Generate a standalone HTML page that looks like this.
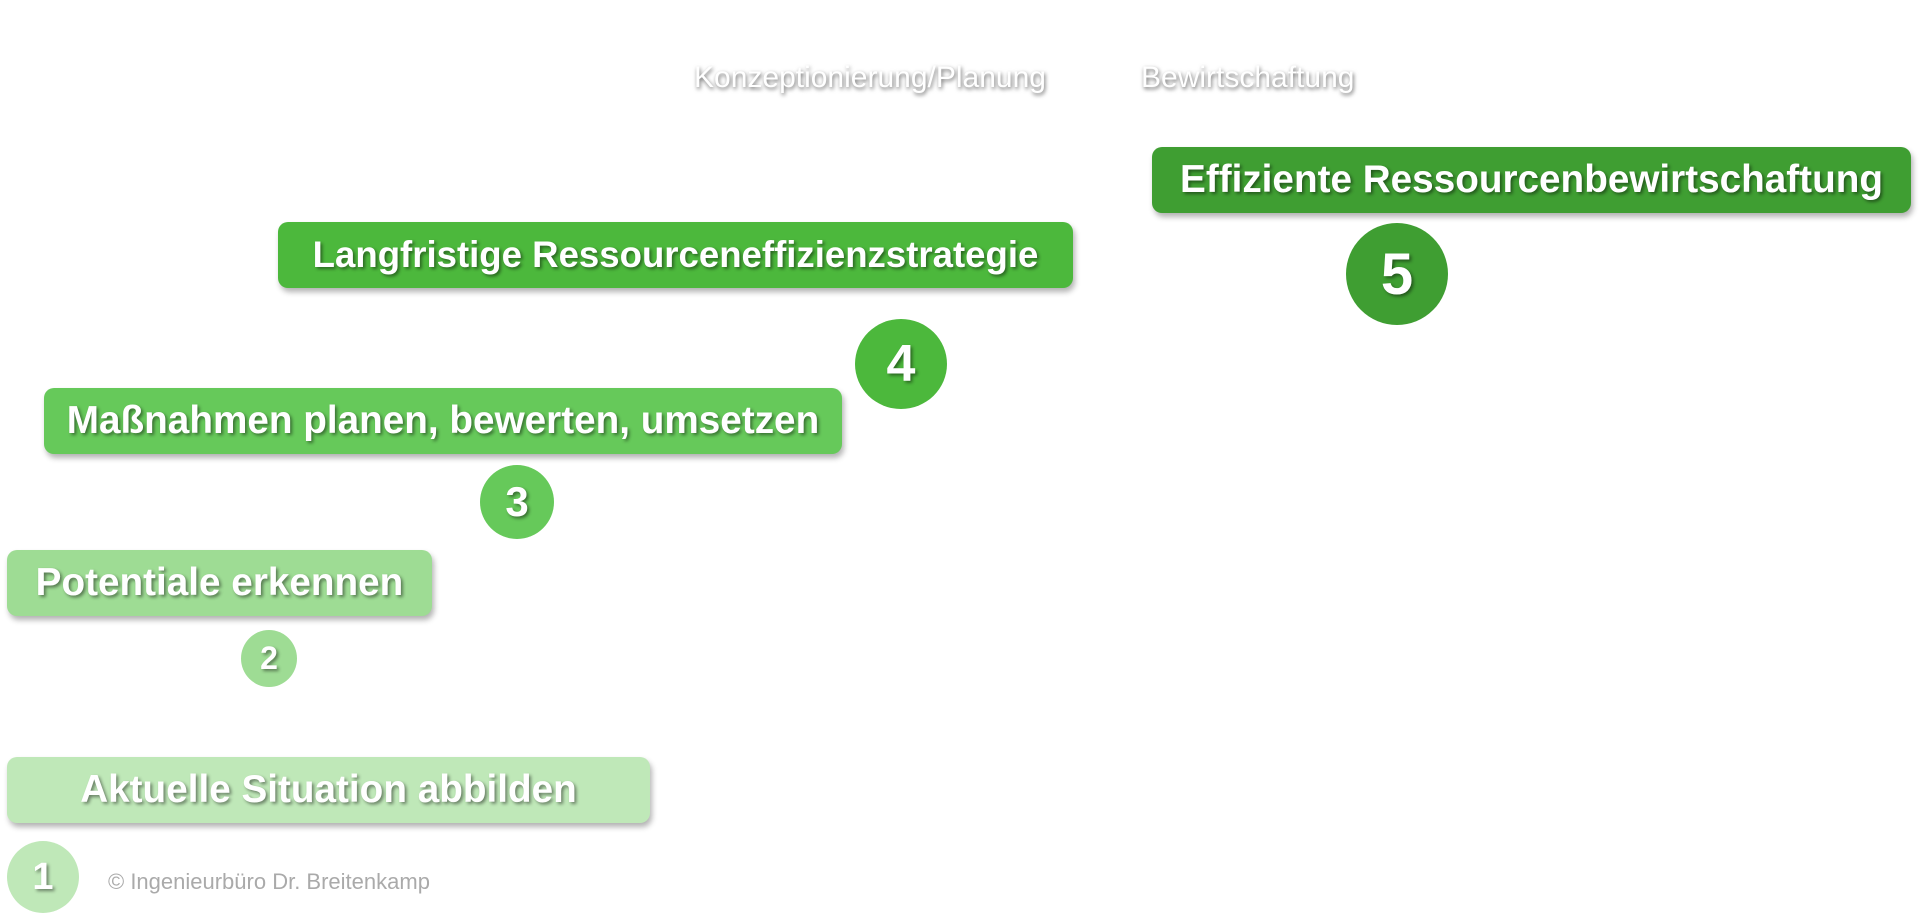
<!DOCTYPE html>
<html><head><meta charset="utf-8"><style>
html,body{margin:0;padding:0;background:#fff;width:1920px;height:923px;overflow:hidden;position:relative;font-family:"Liberation Sans",Arial,sans-serif}
.b{position:absolute;border-radius:10px;color:#fff;font-weight:bold;font-size:38.7px;display:flex;align-items:center;justify-content:center;box-shadow:2px 4px 6px rgba(0,0,0,.3);text-shadow:2px 2px 3px rgba(0,0,0,.45);white-space:nowrap}
.c{position:absolute;border-radius:50%;color:#fff;font-weight:bold;display:flex;align-items:center;justify-content:center;text-shadow:2px 2px 3px rgba(0,0,0,.45)}
.h{position:absolute;color:#fff;font-size:30px;text-shadow:1px 2px 4px rgba(0,0,0,.6);white-space:nowrap;top:61px}
</style></head><body>
<div class="h" style="left:694px">Konzeptionierung/Planung</div>
<div class="h" style="left:1141px">Bewirtschaftung</div>

<div class="b" style="left:1152px;top:147px;width:759px;height:66px;background:#3f9e32">Effiziente Ressourcenbewirtschaftung</div>
<div class="c" style="left:1346px;top:223px;width:102px;height:102px;background:#3f9e32;font-size:58px">5</div>

<div class="b" style="left:278px;top:222px;width:795px;height:66px;background:#4cb83c;font-size:36.6px">Langfristige Ressourceneffizienzstrategie</div>
<div class="c" style="left:855px;top:319px;width:92px;height:90px;background:#4cb83c;font-size:52px">4</div>

<div class="b" style="left:44px;top:388px;width:798px;height:66px;background:#66c95a">Maßnahmen planen, bewerten, umsetzen</div>
<div class="c" style="left:480px;top:465px;width:74px;height:74px;background:#66c95a;font-size:42px">3</div>

<div class="b" style="left:7px;top:550px;width:425px;height:66px;background:#9edc94">Potentiale erkennen</div>
<div class="c" style="left:241px;top:630px;width:56px;height:57px;background:#9edc94;font-size:32px">2</div>

<div class="b" style="left:7px;top:757px;width:643px;height:66px;background:#bfe8b8">Aktuelle Situation abbilden</div>
<div class="c" style="left:7px;top:841px;width:72px;height:72px;background:#bfe8b8;font-size:38px">1</div>
<div style="position:absolute;left:108px;top:869px;font-size:22px;color:#aaa">© Ingenieurbüro Dr. Breitenkamp</div>
</body></html>
